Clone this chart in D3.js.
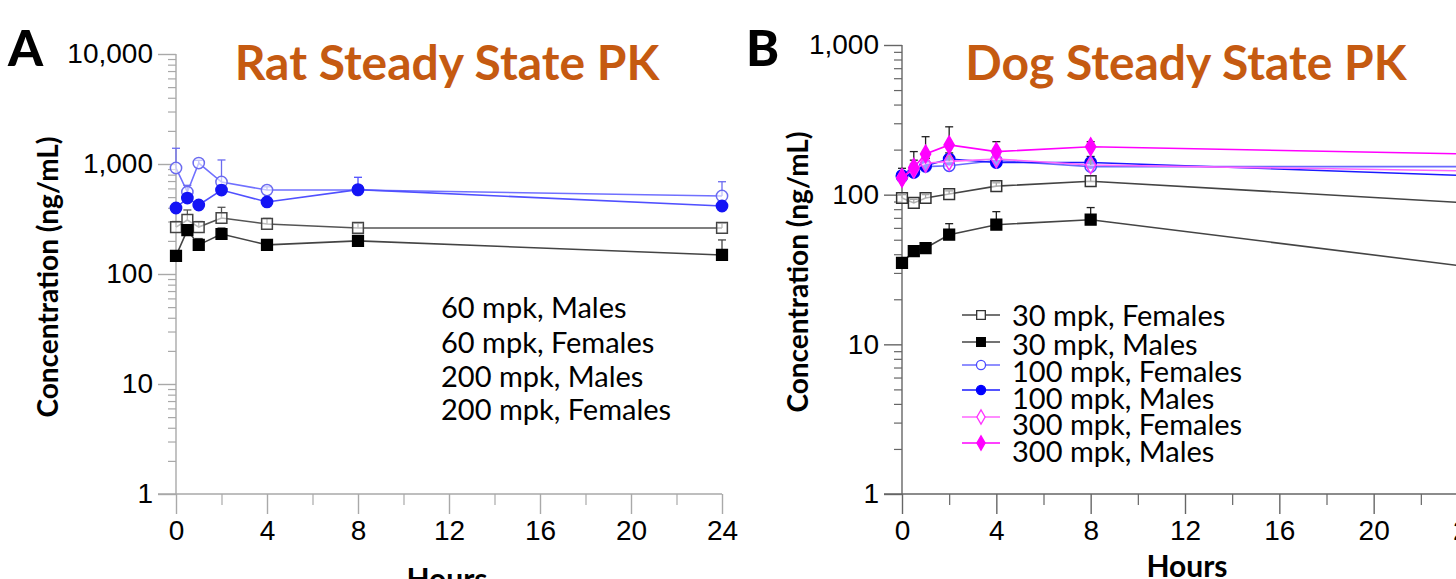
<!DOCTYPE html>
<html>
<head>
<meta charset="utf-8">
<script src="https://cdn.jsdelivr.net/npm/d3@7"></script>
<style>
  body{margin:0;background:#fff;}
  svg{font-family:Lato,"Open Sans",sans-serif;display:block;}
</style>
</head>
<body>
<svg id="viz-svg" width="1456" height="579"></svg>
<script>
// sampling times (hours)
var hours = [0, 0.5, 1, 2, 4, 8, 24];

// A - rat, ng/mL
var rat60Males     = [146, 251, 184, 231, 184, 200, 149];
var rat60MalesHi   = [null, 280, 210, 262, null, 222, 204];
var rat60Females   = [267, 310, 267, 323, 285, 262, 262];
var rat60FemalesHi = [300, 382, 300, 404, 320, 290, 290];
var rat200Males     = [398, 490, 424, 580, 452, 585, 415];
var rat200MalesHi   = [null, 540, null, 640, 490, 757, 440];
var rat200Females   = [920, 556, 1020, 686, 580, 580, 512];
var rat200FemalesHi = [1390, 640, 1080, 1088, 620, null, 690];
var ratLegend = ["60 mpk, Males", "60 mpk, Females", "200 mpk, Males", "200 mpk, Females"];

// B - dog, ng/mL
var dog30Females    = [95, 88, 95, 101, 114, 123, 88];
var dog30FemalesHi  = [100, 93, 100, 106, 120, 134, null];
var dog30Males      = [35, 42, 44, 54, 63, 68, 33];
var dog30MalesHi    = [null, null, null, 64, 77, 82, null];
var dog100Females   = [132, 141, 154, 156, 169, 154, 154];
var dog100FemalesHi = [140, 150, 160, 165, 178, 160, null];
var dog100Males     = [134, 141, 156, 173, 164, 164, 134];
var dog100MalesHi   = [150, 170, 175, 190, 200, 180, null];
var dog300Females   = [130, 148, 162, 167, 173, 158, 144];
var dog300FemalesHi = [138, 160, 175, 180, 185, 170, null];
var dog300Males     = [129, 152, 187, 215, 194, 209, 187];
var dog300MalesHi   = [null, 194, 244, 284, 226, 226, null];
var dogLegend = ["30 mpk, Females", "30 mpk, Males", "100 mpk, Females", "100 mpk, Males", "300 mpk, Females", "300 mpk, Males"];

var majorHours = [0, 4, 8, 12, 16, 20, 24]
  , minorHours = [2, 6, 10, 14, 18, 22]
  , orange = "#c55a11";

var svg = d3.select("#viz-svg");

var shapes = {square: d3.symbolSquare, circle: d3.symbolCircle, diamond: d3.symbolDiamond};
var shapeSize = {square: 115, circle: 100, diamond: 90};

function minorTicks(domain){
  var out = [];
  for (var p = Math.log10(domain[0]); p < Math.log10(domain[1]); p++){
    for (var k = 2; k < 10; k++) out.push(k * Math.pow(10, p));
  }
  return out;
}

function drawPanel(cfg){
  var g = svg.append("g").attr("class", "panel");

  var x = d3.scaleLinear().domain([0, 24]).range(cfg.xRange);
  var y = d3.scaleLog().domain(cfg.yDomain).range(cfg.yRange);

  // y axis
  var majors = [];
  for (var v = cfg.yDomain[0]; v <= cfg.yDomain[1]; v *= 10) majors.push(v);

  g.append("g")
    .attr("transform", "translate(" + cfg.xRange[0] + ",0)")
    .call(d3.axisLeft(y).tickValues(minorTicks(cfg.yDomain)).tickSize(8).tickFormat(""))
    .call(function(a){ a.select(".domain").remove(); })
    .selectAll("line").attr("stroke", cfg.axisColor).attr("stroke-width", 1.2);

  var yAx = g.append("g")
    .attr("transform", "translate(" + cfg.xRange[0] + ",0)")
    .call(d3.axisLeft(y).tickValues(majors).tickSize(18).tickPadding(5).tickFormat(d3.format(",")));
  yAx.select(".domain").attr("stroke", cfg.axisColor).attr("stroke-width", 1.4)
    .attr("d", "M0," + cfg.yRange[0] + "V" + cfg.yRange[1]);
  yAx.selectAll("line").attr("stroke", cfg.axisColor).attr("stroke-width", 1.4);
  yAx.selectAll("text").attr("font-size", 28).attr("fill", "#000");

  // x axis
  g.append("g")
    .attr("transform", "translate(0," + cfg.yRange[0] + ")")
    .call(d3.axisBottom(x).tickValues(minorHours).tickSize(11).tickFormat(""))
    .call(function(a){ a.select(".domain").remove(); })
    .selectAll("line").attr("stroke", cfg.axisColor).attr("stroke-width", 1.2);

  var xAx = g.append("g")
    .attr("transform", "translate(0," + cfg.yRange[0] + ")")
    .call(d3.axisBottom(x).tickValues(majorHours).tickSize(20).tickPadding(6));
  xAx.select(".domain").attr("stroke", cfg.axisColor).attr("stroke-width", 1.4)
    .attr("d", "M" + (cfg.xRange[0] - 18) + ",0H" + cfg.xEnd);
  xAx.selectAll("line").attr("stroke", cfg.axisColor).attr("stroke-width", 1.4);
  xAx.selectAll("text").attr("font-size", 28).attr("fill", "#000");

  // axis titles
  g.append("text")
    .attr("transform", "translate(" + cfg.yTitleX + "," + cfg.yTitleY + ") rotate(-90)")
    .attr("text-anchor", "middle").attr("font-weight", 700).attr("font-size", 28)
    .text("Concentration (ng/mL)");
  g.append("text")
    .attr("x", cfg.hoursX).attr("y", cfg.hoursY)
    .attr("text-anchor", "middle").attr("font-weight", 700).attr("font-size", 30)
    .text("Hours");

  // panel letter + title
  g.append("text").attr("x", cfg.letterX).attr("y", 66)
    .attr("font-weight", 900).attr("font-size", 50).text(cfg.letter);
  g.append("text").attr("x", cfg.titleX).attr("y", 80)
    .attr("text-anchor", "middle").attr("font-weight", 700).attr("font-size", 48)
    .attr("fill", orange).text(cfg.title);

  // series
  var line = d3.line().x(function(d){ return x(d.t); }).y(function(d){ return y(d.v); });

  cfg.series.forEach(function(s){
    var pts = hours.map(function(t, i){ return {t: t, v: s.values[i], hi: s.hi[i]}; });
    var sg = g.append("g").attr("class", "series");

    sg.append("path").datum(pts)
      .attr("fill", "none").attr("stroke", s.line).attr("stroke-width", 1.6)
      .attr("d", line);

    var eb = sg.selectAll(".err").data(pts.filter(function(d){ return d.hi; }))
      .enter().append("g").attr("class", "err");
    eb.append("line")
      .attr("x1", function(d){ return x(d.t); }).attr("x2", function(d){ return x(d.t); })
      .attr("y1", function(d){ return y(d.v); }).attr("y2", function(d){ return y(d.hi); })
      .attr("stroke", s.errColor).attr("stroke-width", 1.3);
    eb.append("line")
      .attr("x1", function(d){ return x(d.t) - 4; }).attr("x2", function(d){ return x(d.t) + 4; })
      .attr("y1", function(d){ return y(d.hi); }).attr("y2", function(d){ return y(d.hi); })
      .attr("stroke", s.errColor).attr("stroke-width", 1.3);

    sg.selectAll(".pt").data(pts).enter().append("path")
      .attr("class", "pt")
      .attr("transform", function(d){ return "translate(" + x(d.t) + "," + y(d.v) + ")"; })
      .attr("d", d3.symbol().type(shapes[s.shape]).size(shapeSize[s.shape]))
      .attr("fill", s.filled ? s.color : "#fff")
      .attr("fill-opacity", s.filled ? 1 : 0.6)
      .attr("stroke", s.color).attr("stroke-width", 1.5);
  });

  // legend
  var lg = g.append("g").attr("class", "legend");
  cfg.legend.forEach(function(name, i){
    var s = cfg.legendSymbols ? cfg.series[i] : null;
    if (s){
      var sy = cfg.legendSymY[i];
      lg.append("line").attr("x1", cfg.legendX - 50).attr("x2", cfg.legendX - 12)
        .attr("y1", sy).attr("y2", sy).attr("stroke", s.line).attr("stroke-width", 1.6);
      lg.append("path")
        .attr("transform", "translate(" + (cfg.legendX - 31) + "," + sy + ")")
        .attr("d", d3.symbol().type(shapes[s.shape]).size(shapeSize[s.shape] * 0.65))
        .attr("fill", s.filled ? s.color : "#fff")
        .attr("stroke", s.color).attr("stroke-width", 1.3);
    }
    lg.append("text").attr("x", cfg.legendX).attr("y", cfg.legendY[i])
      .attr("dy", "0.35em").attr("font-size", 29).text(name);
  });
}

drawPanel({
  letter: "A", letterX: 8, title: "Rat Steady State PK", titleX: 447,
  xRange: [176, 722], xEnd: 722,
  yDomain: [1, 10000], yRange: [494, 54],
  axisColor: "#a9a9a9",
  yTitleX: 58, yTitleY: 277, hoursX: 447, hoursY: 590,
  legendX: 441, legendY: [308, 343, 377, 410], legend: ratLegend, legendSymbols: false,
  series: [
    {values: rat60Females, hi: rat60FemalesHi, shape: "square", filled: false, color: "#444", line: "#555", errColor: "#555"},
    {values: rat60Males, hi: rat60MalesHi, shape: "square", filled: true, color: "#000", line: "#444", errColor: "#444"},
    {values: rat200Females, hi: rat200FemalesHi, shape: "circle", filled: false, color: "#6b6bf0", line: "#7070ff", errColor: "#6b6bf0"},
    {values: rat200Males, hi: rat200MalesHi, shape: "circle", filled: true, color: "#1414f5", line: "#5050ff", errColor: "#5050ff"}
  ]
});

drawPanel({
  letter: "B", letterX: 746, title: "Dog Steady State PK", titleX: 1186,
  xRange: [902, 1468], xEnd: 1456,
  yDomain: [1, 1000], yRange: [494, 45],
  axisColor: "#666",
  yTitleX: 808, yTitleY: 272, hoursX: 1187, hoursY: 577,
  legendX: 1012, legendY: [316, 345, 372, 399, 425, 452], legend: dogLegend, legendSymbols: true,
  legendSymY: [315, 342, 365, 390, 417, 443],
  series: [
    {values: dog30Females, hi: dog30FemalesHi, shape: "square", filled: false, color: "#333", line: "#444", errColor: "#222"},
    {values: dog30Males, hi: dog30MalesHi, shape: "square", filled: true, color: "#000", line: "#444", errColor: "#222"},
    {values: dog100Females, hi: dog100FemalesHi, shape: "circle", filled: false, color: "#4a4aff", line: "#6a6aff", errColor: "#222"},
    {values: dog100Males, hi: dog100MalesHi, shape: "circle", filled: true, color: "#0000ff", line: "#1a1aff", errColor: "#222"},
    {values: dog300Females, hi: dog300FemalesHi, shape: "diamond", filled: false, color: "#ff33ff", line: "#ff66ff", errColor: "#222"},
    {values: dog300Males, hi: dog300MalesHi, shape: "diamond", filled: true, color: "#ff00ff", line: "#ff00ff", errColor: "#222"}
  ]
});
</script>
</body>
</html>
